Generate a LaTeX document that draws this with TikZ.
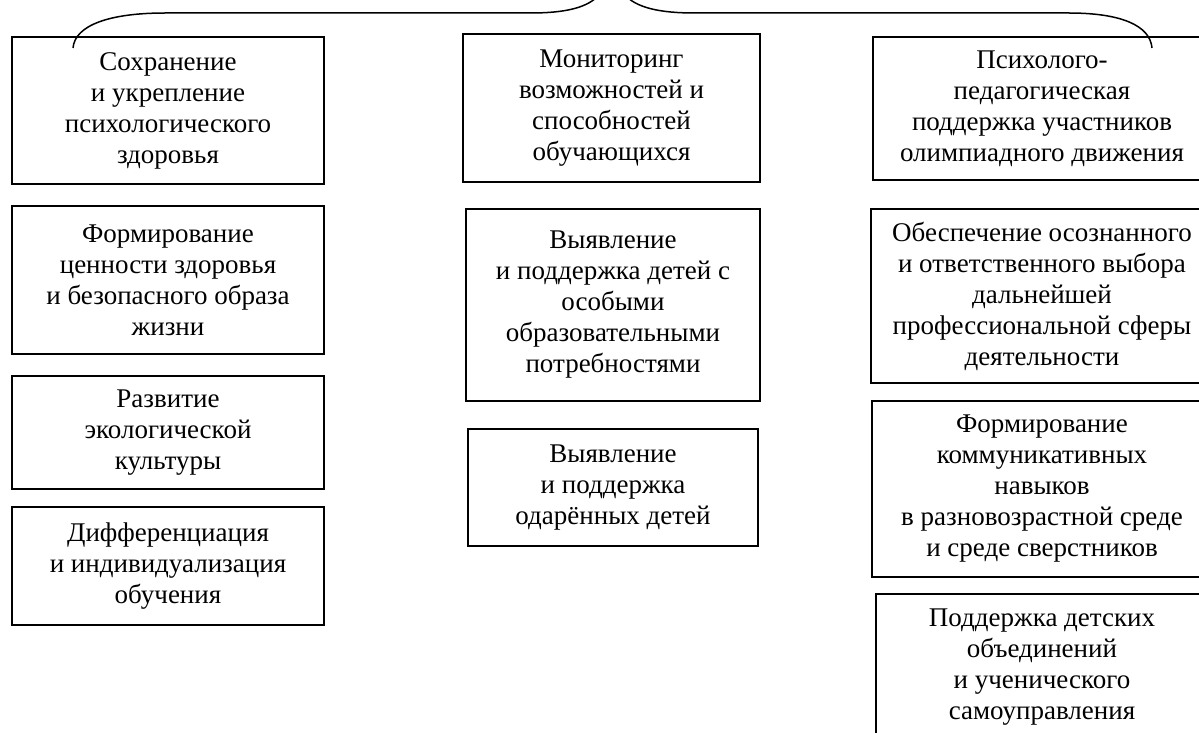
\documentclass[tikz,border=0pt]{standalone}
\usepackage{fontspec}
\setmainfont{Liberation Serif}
\begin{document}
\begin{tikzpicture}[x=0.5pt,y=-0.5pt,
  box/.style={draw, line width=0.9pt, align=center, inner sep=0pt,
    font=\fontsize{13.5}{15.5}\selectfont},
  bracepath/.style={draw, line width=0.75pt}]
\useasboundingbox (0,0) rectangle (1199,733);
\clip (0,0) rectangle (1199,733);
% left column
\node[box, minimum width=156pt, minimum height=73.5pt] (b1) at (168,110.5)
  {Сохранение\\и укрепление\\психологического\\здоровья};
\node[box, minimum width=156pt, minimum height=74pt] (b2) at (168,280)
  {Формирование\\ценности здоровья\\и безопасного образа\\жизни};
\node[box, minimum width=156pt, minimum height=56.5pt] (b3) at (168,432.5)
  {Развитие\\экологической\\культуры};
\node[box, minimum width=156pt, minimum height=59pt] (b4) at (168,566)
  {Дифференциация\\и индивидуализация\\обучения};
% middle column
\node[box, minimum width=148.5pt, minimum height=74pt] (b5) at (611.5,108)
  {Мониторинг\\возможностей и\\способностей\\обучающихся};
\node[box, minimum width=147pt, minimum height=96pt] (b6) at (613,305)
  {Выявление\\и поддержка детей с\\особыми\\образовательными\\потребностями};
\node[box, minimum width=145pt, minimum height=58.5pt] (b7) at (613,487.5)
  {Выявление\\и поддержка\\одарённых детей};
% right column
\node[box, minimum width=169pt, minimum height=71.5pt] (b8) at (1042,108.5)
  {Психолого-\\педагогическая\\поддержка участников\\олимпиадного движения};
\node[box, minimum width=171pt, minimum height=87pt] (b9) at (1042,296)
  {Обеспечение осознанного\\и ответственного выбора\\дальнейшей\\профессиональной сферы\\деятельности};
\node[box, minimum width=170pt, minimum height=88pt] (b10) at (1042,489)
  {Формирование\\коммуникативных\\навыков\\в разновозрастной среде\\и среде сверстников};
\node[box, minimum width=166pt, minimum height=73.5pt] (b11) at (1042,667.5)
  {Поддержка детских\\объединений\\и ученического\\самоуправления};
% brace
\draw[bracepath] (73,48) .. controls (75,25) and (110,13) .. (165,13)
  -- (530,13) .. controls (565,13) and (588,8) .. (600,-6);
\draw[bracepath] (624,-6) .. controls (636,8) and (660,13) .. (695,13)
  -- (1069,13) .. controls (1120,13) and (1150,25) .. (1152,48);
\end{tikzpicture}
\end{document}
